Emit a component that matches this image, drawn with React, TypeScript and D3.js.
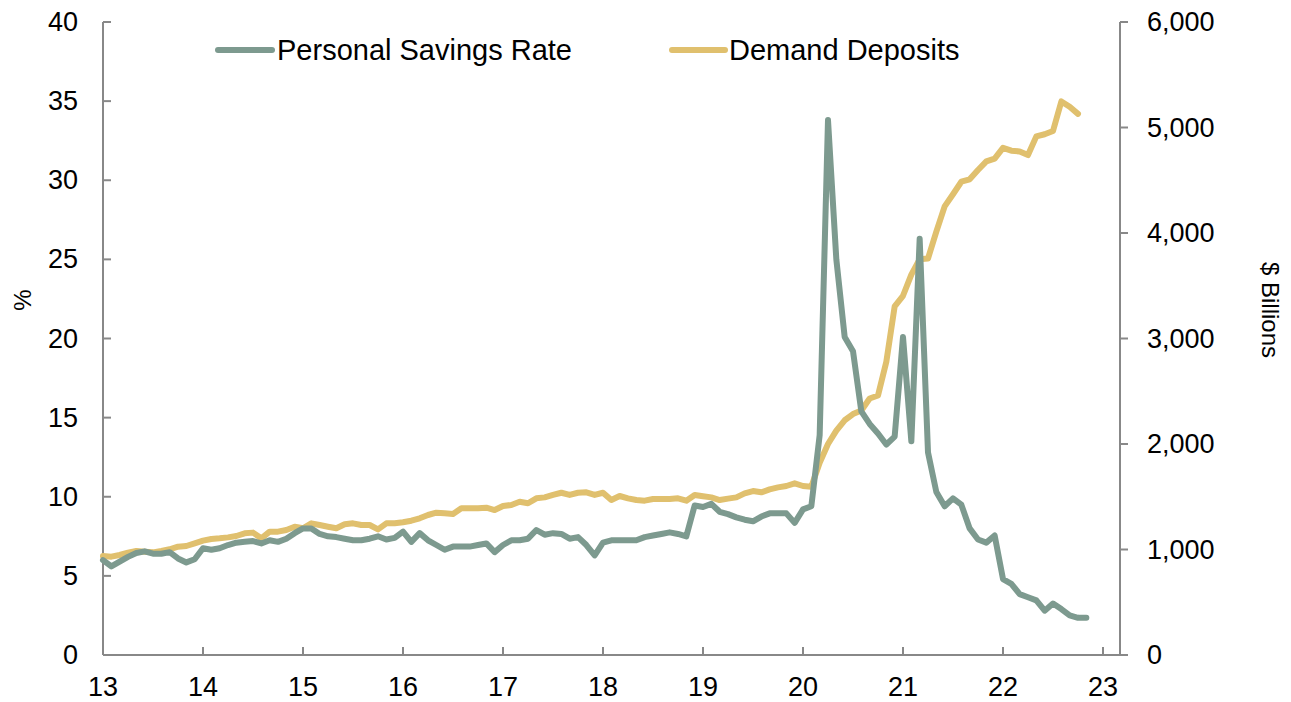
import React from "react";
import * as d3 from "d3";

// Monthly data starting Jan 2013
const startYear = 13;
const savingsRate: number[] = [
  // 2013
  6.0, 5.6, 5.9, 6.2, 6.45, 6.55, 6.4, 6.4, 6.5, 6.1, 5.85, 6.05,
  // 2014
  6.75, 6.65, 6.75, 6.95, 7.1, 7.15, 7.2, 7.05, 7.25, 7.15, 7.35, 7.7,
  // 2015
  8.0, 8.0, 7.65, 7.5, 7.45, 7.35, 7.25, 7.25, 7.35, 7.5, 7.3, 7.4,
  // 2016
  7.8, 7.15, 7.7, 7.25, 6.95, 6.65, 6.85, 6.85, 6.85, 6.95, 7.05, 6.5,
  // 2017
  6.95, 7.25, 7.25, 7.35, 7.9, 7.6, 7.7, 7.65, 7.35, 7.45, 6.95, 6.3,
  // 2018
  7.1, 7.25, 7.25, 7.25, 7.25, 7.45, 7.55, 7.65, 7.75, 7.65, 7.5, 9.45,
  // 2019
  9.35, 9.55, 9.05, 8.9, 8.7, 8.55, 8.45, 8.75, 8.95, 8.95, 8.95, 8.35,
  // 2020
  9.2, 9.4, 13.9, 33.8, 25.0, 20.1, 19.2, 15.4, 14.6, 14.0, 13.3, 13.8,
  // 2021
  20.1, 13.5, 26.3, 12.8, 10.3, 9.4, 9.9, 9.5, 8.0, 7.3, 7.1, 7.55,
  // 2022
  4.8, 4.5, 3.85, 3.65, 3.45, 2.8, 3.25, 2.9, 2.5, 2.35, 2.35,
];

const demandDeposits: number[] = [
  // 2013
  938, 932, 948, 970, 986, 979, 973, 986, 1002, 1027, 1033, 1059,
  // 2014
  1084, 1100, 1106, 1115, 1128, 1153, 1160, 1106, 1169, 1169, 1185, 1216,
  // 2015
  1201, 1248, 1232, 1216, 1201, 1239, 1248, 1232, 1232, 1191, 1248, 1248,
  // 2016
  1258, 1273, 1296, 1327, 1349, 1343, 1337, 1390, 1390, 1390, 1396, 1374,
  // 2017
  1412, 1422, 1453, 1438, 1485, 1494, 1517, 1538, 1517, 1538, 1542, 1517,
  // 2018
  1538, 1469, 1507, 1485, 1469, 1463, 1479, 1479, 1479, 1485, 1463, 1517,
  // 2019
  1505, 1494, 1469, 1482, 1494, 1532, 1554, 1542, 1570, 1589, 1602, 1627,
  // 2020
  1602, 1595, 1822, 2000, 2127, 2225, 2284, 2317, 2431, 2460, 2780, 3305,
  // 2021
  3405, 3606, 3752, 3758, 4012, 4252, 4367, 4486, 4509, 4597, 4679, 4705,
  // 2022
  4807, 4780, 4773, 4739, 4916, 4936, 4967, 5247, 5196, 5129,
];

const xTicks = [13, 14, 15, 16, 17, 18, 19, 20, 21, 22, 23];
const leftTicks = [0, 5, 10, 15, 20, 25, 30, 35, 40];
const rightTicks = [0, 1000, 2000, 3000, 4000, 5000, 6000];
const seriesNames = ["Personal Savings Rate", "Demand Deposits"];

const GREEN = "#7d9a8f";
const GOLD = "#e0c06e";
const AXIS = "#888888";
const FONT = "'Liberation Sans', Arial, sans-serif";

export default function App() {
  const W = 1291;
  const H = 702;
  const left = 103;
  const right = 1120;
  const top = 22;
  const bottom = 655;

  const x = d3.scaleLinear().domain([13, 23.17]).range([left, right]);
  const yL = d3.scaleLinear().domain([0, 40]).range([bottom, top]);
  const yR = d3.scaleLinear().domain([0, 6000]).range([bottom, top]);

  const monthX = (i: number) => x(startYear + i / 12);

  const greenPath = d3
    .line<number>()
    .x((_, i) => monthX(i))
    .y((d) => yL(d))(savingsRate) as string;
  const goldPath = d3
    .line<number>()
    .x((_, i) => monthX(i))
    .y((d) => yR(d))(demandDeposits) as string;

  const fmt = d3.format(",");
  const tickFont = 27;
  const lw = 6;

  return (
    <svg
      width={W}
      height={H}
      style={{ position: "absolute", left: 0, top: 0, background: "#fff" }}
      fontFamily={FONT}
    >
      {/* axes */}
      <line x1={left} x2={left} y1={top} y2={bottom} stroke={AXIS} strokeWidth={2} />
      <line x1={right} x2={right} y1={top} y2={bottom} stroke={AXIS} strokeWidth={2} />
      <line x1={left} x2={right + 8} y1={bottom} y2={bottom} stroke={AXIS} strokeWidth={2} />

      {leftTicks.map((t) => (
        <g key={"l" + t}>
          <line x1={left} x2={left + 8} y1={yL(t)} y2={yL(t)} stroke={AXIS} strokeWidth={2} />
          <text x={78} y={yL(t)} textAnchor="end" dominantBaseline="central" fontSize={tickFont} fill="#000">
            {t}
          </text>
        </g>
      ))}
      {rightTicks.map((t) => (
        <g key={"r" + t}>
          <line x1={right} x2={right + 8} y1={yR(t)} y2={yR(t)} stroke={AXIS} strokeWidth={2} />
          <text x={1147} y={yR(t)} textAnchor="start" dominantBaseline="central" fontSize={tickFont} fill="#000">
            {fmt(t)}
          </text>
        </g>
      ))}
      {xTicks.map((t) => (
        <g key={"x" + t}>
          <line x1={x(t)} x2={x(t)} y1={bottom} y2={bottom - 8} stroke={AXIS} strokeWidth={2} />
          <text x={x(t)} y={687} textAnchor="middle" dominantBaseline="central" fontSize={tickFont} fill="#000">
            {t}
          </text>
        </g>
      ))}

      <text
        transform={`translate(22,300) rotate(-90)`}
        textAnchor="middle"
        dominantBaseline="central"
        fontSize={24}
      >
        %
      </text>
      <text
        transform={`translate(1270,310) rotate(90)`}
        textAnchor="middle"
        dominantBaseline="central"
        fontSize={24}
      >
        $ Billions
      </text>

      {/* series */}
      <path d={goldPath} fill="none" stroke={GOLD} strokeWidth={lw} strokeLinejoin="round" strokeLinecap="round" />
      <path d={greenPath} fill="none" stroke={GREEN} strokeWidth={lw} strokeLinejoin="round" strokeLinecap="round" />

      {/* legend */}
      <line x1={218} x2={272} y1={50} y2={50} stroke={GREEN} strokeWidth={lw} strokeLinecap="round" />
      <text x={277} y={50} dominantBaseline="central" fontSize={29}>
        {seriesNames[0]}
      </text>
      <line x1={672} x2={725} y1={50} y2={50} stroke={GOLD} strokeWidth={lw} strokeLinecap="round" />
      <text x={729} y={50} dominantBaseline="central" fontSize={29}>
        {seriesNames[1]}
      </text>
    </svg>
  );
}
